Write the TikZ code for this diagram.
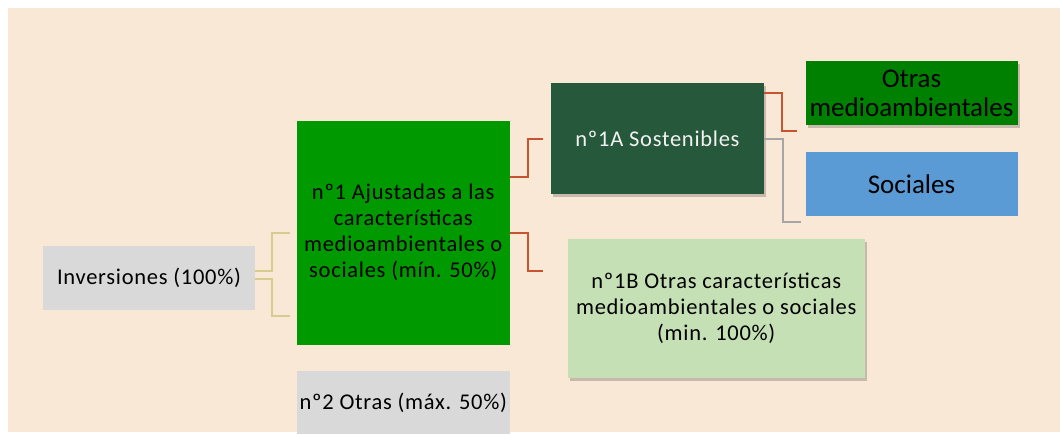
\documentclass[tikz,border=0pt]{standalone}
\usepackage{fontspec}
\setmainfont{Carlito}
\newfontfamily\spaced{Carlito}[LetterSpace=3.2]
\usetikzlibrary{shadows}
\definecolor{bg}{HTML}{FAE8D7}
\definecolor{greyb}{HTML}{D9D9D9}
\definecolor{green1}{HTML}{009900}
\definecolor{green2}{HTML}{008000}
\definecolor{dkgreen}{HTML}{26583B}
\definecolor{ltgreen}{HTML}{C5E0B4}
\definecolor{blue1}{HTML}{5B9BD5}
\definecolor{redl}{HTML}{C8532F}
\definecolor{yell}{HTML}{D6CC8E}
\definecolor{greyl}{HTML}{A6A6A6}
\begin{document}
\begin{tikzpicture}[x=1pt,y=-1pt,
  box/.style={inner sep=0pt, align=center, text=black,
    font=\spaced\fontsize{22.5}{26}\selectfont},
  bigbox/.style={inner sep=0pt, align=center, text=black,
    font=\fontsize{27}{29}\selectfont},
  shad/.style={drop shadow={shadow xshift=2pt, shadow yshift=-3pt, opacity=0.2, fill=black}},
  conn/.style={line width=1.6pt}]
\useasboundingbox (0,0) rectangle (1060,434);
\fill[white] (0,0) rectangle (1060,434);
\fill[bg] (8,8) rectangle (1060,432);

\node[box, fill=greyb, minimum width=212pt, minimum height=64.5pt] (inv) at (149,278) {Inversiones (100\%)};
\node[box, fill=green1, minimum width=212.5pt, minimum height=224pt] (n1) at (403.25,232.5)
  {nº1 Ajustadas a las\\características\\medioambientales o\\sociales (mín. 50\%)};
\node[box, fill=greyb, minimum width=212.5pt, minimum height=63pt] (n2) at (403.25,402.5) {nº2 Otras (máx. 50\%)};
\node[box, fill=dkgreen, text=white!95!black, shad, minimum width=213pt, minimum height=111pt] (n1a) at (657.5,138.5) {nº1A Sostenibles};
\node[box, fill=ltgreen, shad, minimum width=296.5pt, minimum height=139pt] (n1b) at (716.25,308.5)
  {nº1B Otras características\\medioambientales o sociales\\(min. 100\%)};
\node[bigbox, fill=green2, shad, minimum width=212pt, minimum height=64pt] (otr) at (911.5,93) {Otras\\medioambientales};
\node[bigbox, fill=blue1, minimum width=212pt, minimum height=64.5pt] (soc) at (911.5,183.75) {Sociales};

\coordinate (ya) at (290,233);
\coordinate (yb) at (290,316);
\coordinate (ra) at (543,139);
\coordinate (rb) at (543,271);
\coordinate (rc) at (797,131);
\coordinate (gd) at (801,222);

\draw[conn, yell] ([yshift=7pt]inv.east) -- ++(17,0) |- (ya);
\draw[conn, yell] ([yshift=-1pt]inv.east) -- ++(17,0) |- (yb);
\draw[conn, redl] ([yshift=55.5pt]n1.east) -- ++(18,0) |- (ra);
\draw[conn, redl] ([yshift=-0.5pt]n1.east) -- ++(18,0) |- (rb);
\draw[conn, redl] ([yshift=45.5pt]n1a.east) -- ++(18,0) |- (rc);
\draw[conn, greyl] ([yshift=-0.5pt]n1a.east) -- ++(19,0) |- (gd);
\end{tikzpicture}
\end{document}
